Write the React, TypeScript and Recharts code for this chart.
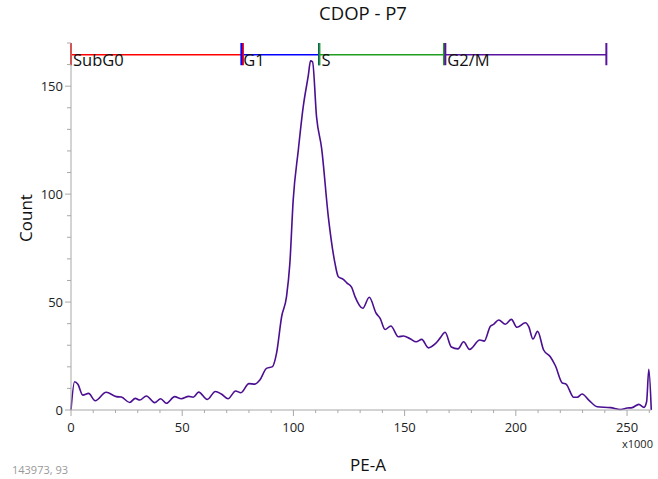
import React from 'react';
import { LineChart, Line, XAxis, YAxis, ReferenceLine } from 'recharts';

// PE-A (x1000) and Count
const peA = [
  0, 1.6, 3.1, 5.3, 7.9, 10.9, 15.8, 20.4, 22.6, 26.4, 28.9, 30.9, 33.9, 37.6, 40.3, 42.9,
  46.6, 49.6, 52.9, 54.9, 57.4, 61.3, 64.9, 67.6, 70.6, 74.0, 76.4, 80.0, 82.7, 84.9, 87.9,
  90.6, 92.4, 94.7, 96.9, 98.4, 99.9, 102.2, 104.4, 106.7, 107.7, 108.6, 110.4, 112.7, 115.7,
  118.7, 120.2, 122.4, 124.0, 126.2, 127.7, 131.2, 134.1, 137.2, 139.0, 141.2, 143.8, 147.2,
  149.5, 152.5, 155.2, 157.7, 160.7, 163.7, 166.0, 168.2, 171.0, 174.0, 176.5, 179.2, 183.8,
  185.8, 188.5, 190.0, 192.3, 195.3, 198.0, 200.5, 204.3, 205.8, 207.7, 209.8, 212.5, 215.5,
  217.8, 220.8, 222.7, 226.0, 227.6, 229.8, 232.8, 236.6, 242.6, 247.1, 250.1, 252.3, 255.3,
  257.6, 258.8, 259.8, 260.9,
];
const count = [
  0, 13.1, 11.9, 6.9, 7.7, 4.3, 8.2, 6.2, 6.0, 3.5, 5.4, 4.6, 6.5, 3.4, 5.2, 3.1,
  6.2, 5.2, 6.3, 5.9, 8.3, 4.9, 8.6, 7.4, 5.2, 8.8, 8.0, 12.2, 12.0, 13.9, 19.3,
  20.1, 26.2, 43.2, 52.5, 67.9, 97.2, 120.4, 140.4, 155, 161.7, 161.3, 135.8, 121.1, 89.5,
  67.9, 61.7, 60.5, 58.9, 56.8, 52.5, 47.1, 52.2, 44.8, 42.4, 37.3, 38.9, 33.9,
  34.3, 33.0, 31.6, 32.7, 28.8, 30.6, 33.4, 36.0, 29.2, 28.3, 31.6, 28.1, 32.4,
  31.9, 38.7, 39.7, 41.7, 39.7, 42.0, 38.3, 40.4, 38.6, 32.9, 36.4, 27.8, 24.7,
  20.5, 12.6, 11.9, 5.9, 5.9, 7.4, 4.6, 1.5, 1.1, 0.2, 0.9, 1.1, 2.6,
  1.2, 3.8, 18.8, 0,
];

const xTicks = [0, 10, 20, 30, 40, 50, 60, 70, 80, 90, 100, 110, 120, 130, 140, 150, 160, 170, 180, 190, 200, 210, 220, 230, 240, 250, 260];
const yTicks = [0, 10, 20, 30, 40, 50, 60, 70, 80, 90, 100, 110, 120, 130, 140, 150, 160, 170];

const gateNames = ['SubG0', 'G1', 'S', 'G2/M'];
const gateStart = [0, 76.6, 111.7, 168.3];
const gateEnd = [77.3, 111.5, 167.7, 240.7];
const gateColors = ['#ff0000', '#0000ff', '#1f9e1f', '#5a12a0'];

const data = peA.map((x, i) => ({ x, y: count[i] }));

const FONT = "'Open Sans', sans-serif";
const AXIS = '#a8a8a8';
const GATE_Y = 164.5;

function XTick({ x, y, payload }: any) {
  const major = payload.value % 50 === 0;
  return (
    <g>
      <line x1={x} x2={x} y1={y} y2={y + (major ? 6 : 3)} stroke={AXIS} />
      {major && (
        <text x={x} y={y + 22} textAnchor="middle" fontSize={13} fontFamily={FONT} fill="#222">
          {payload.value}
        </text>
      )}
    </g>
  );
}

function YTick({ x, y, payload }: any) {
  const major = payload.value % 50 === 0;
  return (
    <g>
      <line x1={x} x2={x - (major ? 6 : 4)} y1={y} y2={y} stroke={AXIS} />
      {major && (
        <text x={x - 8} y={y + 4.5} textAnchor="end" fontSize={13} fontFamily={FONT} fill="#222">
          {payload.value}
        </text>
      )}
    </g>
  );
}

export default function App() {
  return (
    <div style={{ position: 'fixed', left: 0, top: 0, width: 658, height: 479, background: '#fff', fontFamily: FONT }}>
      <LineChart width={658} height={479} data={data} margin={{ top: 43, right: 6.5, bottom: 39, left: 0 }}>
        <XAxis
          type="number"
          dataKey="x"
          domain={[0, 261]}
          ticks={xTicks}
          interval={0}
          height={30}
          tickSize={0}
          tickMargin={0}
          tickLine={false}
          stroke={AXIS}
          tick={<XTick />}
        />
        <YAxis
          type="number"
          domain={[0, 170]}
          ticks={yTicks}
          interval={0}
          width={71}
          tickSize={0}
          tickMargin={0}
          tickLine={false}
          stroke={AXIS}
          tick={<YTick />}
        />
        <Line
          type="monotone"
          dataKey="y"
          stroke="#4b0f91"
          strokeWidth={1.6}
          dot={false}
          isAnimationActive={false}
        />
        {gateNames.map((name, i) => (
          <ReferenceLine
            key={'h' + name}
            segment={[{ x: gateStart[i], y: GATE_Y }, { x: gateEnd[i], y: GATE_Y }]}
            stroke={gateColors[i]}
            strokeWidth={1.5}
            ifOverflow="visible"
            label={(props: any) => (
              <text
                x={props.viewBox.x + 2}
                y={props.viewBox.y + 11.5}
                fontSize={16.5}
                fontFamily={FONT}
                fill="#111"
              >
                {name}
              </text>
            )}
          />
        ))}
        {gateNames.map((name, i) => (
          <ReferenceLine
            key={'e' + name}
            segment={[{ x: gateEnd[i], y: 159.7 }, { x: gateEnd[i], y: 170 }]}
            stroke={gateColors[i]}
            strokeWidth={2}
            ifOverflow="visible"
          />
        ))}
        {gateNames.map((name, i) => (
          <ReferenceLine
            key={'s' + name}
            segment={[{ x: gateStart[i], y: 159.7 }, { x: gateStart[i], y: 170 }]}
            stroke={gateColors[i]}
            strokeWidth={2}
            ifOverflow="visible"
          />
        ))}
      </LineChart>
      <div style={{ position: 'absolute', left: 263, width: 200, top: 0, textAlign: 'center', fontSize: 18.5, color: '#111' }}>
        CDOP - P7
      </div>
      <div
        style={{
          position: 'absolute', left: 25, top: 218, width: 0, height: 0,
        }}
      >
        <div style={{ position: 'absolute', transform: 'translate(-50%, -50%) rotate(-90deg)', fontSize: 17, color: '#111', whiteSpace: 'nowrap' }}>
          Count
        </div>
      </div>
      <div style={{ position: 'absolute', left: 318, width: 100, top: 453, textAlign: 'center', fontSize: 17, color: '#111' }}>
        PE-A
      </div>
      <div style={{ position: 'absolute', left: 622, top: 436, fontSize: 11, color: '#222' }}>x1000</div>
      <div style={{ position: 'absolute', left: 12, top: 462, fontSize: 11, color: '#999' }}>143973, 93</div>
    </div>
  );
}
